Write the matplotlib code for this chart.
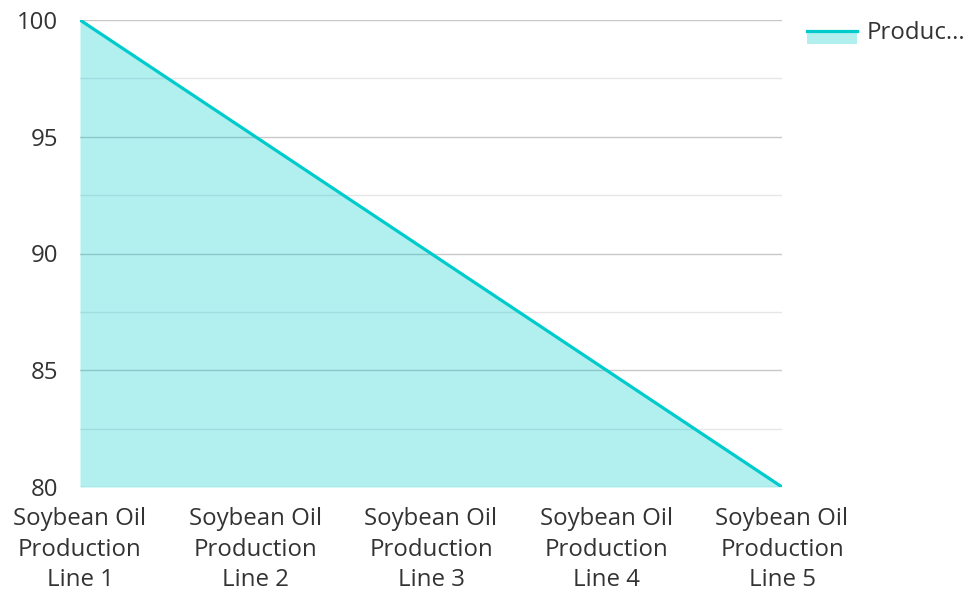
import matplotlib
matplotlib.use('Agg')
import matplotlib.pyplot as plt
from matplotlib.patches import Rectangle
from matplotlib.lines import Line2D

plt.rcParams['font.family'] = ['Open Sans', 'DejaVu Sans']

categories = ['Soybean Oil\nProduction\nLine 1', 'Soybean Oil\nProduction\nLine 2',
              'Soybean Oil\nProduction\nLine 3', 'Soybean Oil\nProduction\nLine 4',
              'Soybean Oil\nProduction\nLine 5']
values = [100, 95, 90, 85, 80]
series_name = 'Produc...'
y_ticks = [80, 85, 90, 95, 100]
y_minor = [82.5, 87.5, 92.5, 97.5]

line_color = '#00CBCC'
text_color = '#333333'
fs = 17.3

fig = plt.figure(figsize=(9.69, 5.92), dpi=100)
ax = fig.add_axes([80 / 969, 1 - 487 / 592, 702 / 969, 467 / 592])

x = list(range(len(categories)))
ax.fill_between(x, values, 80, color=line_color, alpha=0.3, linewidth=0, zorder=2)
ax.plot(x, values, color=line_color, linewidth=2.3, zorder=3, solid_capstyle='round')

ax.set_xlim(0, len(categories) - 1)
ax.set_ylim(80, 100)
ax.set_yticks(y_ticks)
ax.set_yticks(y_minor, minor=True)
ax.set_xticks(x)
ax.set_xticklabels(categories)
ax.grid(True, which='major', axis='y', color='#c8c8c8', linewidth=1, zorder=1)
ax.grid(True, which='minor', axis='y', color='#e6e6e6', linewidth=1, zorder=1)
ax.set_axisbelow(True)
for s in ax.spines.values():
    s.set_visible(False)
ax.tick_params(axis='both', which='both', length=0, labelsize=fs, colors=text_color)
ax.tick_params(axis='y', pad=16)
ax.tick_params(axis='x', pad=14.5)
for lbl in ax.get_xticklabels():
    lbl.set_linespacing(1.37)

# legend
fig.add_artist(Rectangle((807 / 969, 1 - 44 / 592), 50 / 969, 14 / 592,
                         transform=fig.transFigure, color=line_color, alpha=0.3, linewidth=0))
fig.add_artist(Line2D([807 / 969, 857 / 969], [1 - 31 / 592, 1 - 31 / 592],
                      transform=fig.transFigure, color=line_color, linewidth=2.3))
fig.text(867 / 969, 1 - 33 / 592, series_name, fontsize=fs, color=text_color,
         va='center', ha='left')

fig.savefig('out.png', dpi=100)
